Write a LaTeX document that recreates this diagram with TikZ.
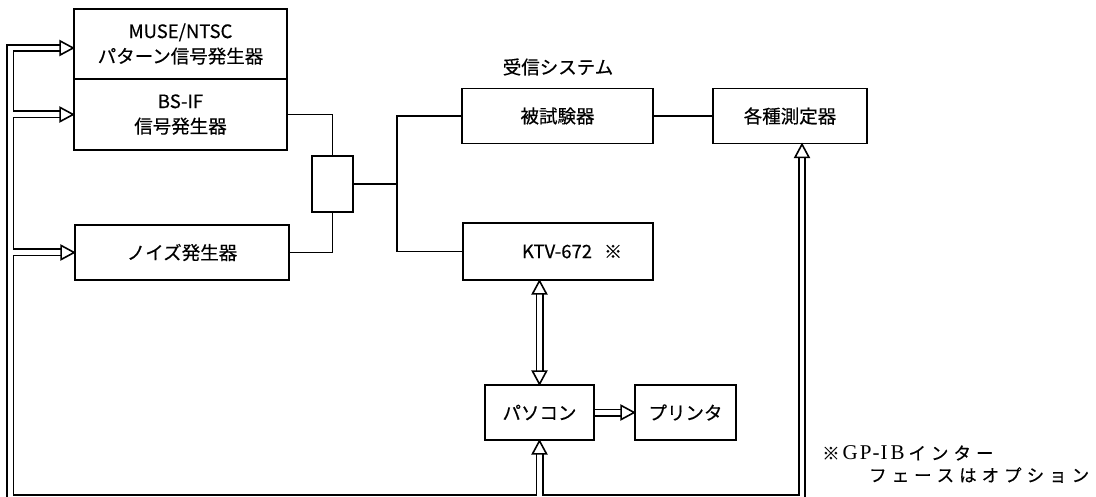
\documentclass[tikz,border=0pt]{standalone}
\usepackage{fontspec}
\setmainfont{Noto Sans CJK JP}[FakeBold=0.4]
\newfontfamily\serifL{Liberation Serif}
\usetikzlibrary{calc}
\newcommand\gsp{\hspace{5pt}}
\begin{document}
\begin{tikzpicture}[x=1pt,y=-1pt,
  box/.style={draw,line width=1.7pt,inner sep=0pt,align=center,font=\fontsize{18.5}{25}\selectfont},
  lbl/.style={inner sep=0pt,font=\fontsize{18.5}{25}\selectfont},
  notefont/.style={inner sep=0pt,anchor=west,font=\fontsize{17.5}{22}\selectfont},
  wire/.style={line width=1.8pt},
  busout/.style={line width=8pt,line join=miter,line cap=butt},
  busin/.style={white,line width=4.6pt,line join=miter,line cap=butt},
  otri/.pic={\draw[fill=white,line width=1.6pt,line join=miter] (0,0) -- (-13,-7) -- (-13,7) -- cycle;}]
\useasboundingbox (0,0) rectangle (1096,497);

% boxes
\node[box,minimum width=213pt,minimum height=70pt] (muse) at (180.5,44) {MUSE/NTSC\\パターン信号発生器};
\node[box,minimum width=213pt,minimum height=71pt] (bsif) at (180.5,114.5) {BS-IF\\信号発生器};
\node[box,minimum width=214pt,minimum height=55pt] (noise) at (182,252.5) {ノイズ発生器};
\node[box,minimum width=41pt,minimum height=56pt] (comb) at (332.5,184) {};
\node[box,minimum width=191pt,minimum height=55pt] (dut) at (557.5,116) {被試験器};
\node[box,minimum width=190pt,minimum height=57pt] (ktv) at (558,251.5) {\hspace*{28pt}KTV-672\hspace{12pt}{\fontsize{18}{18}\selectfont ※}};
\node[box,minimum width=154pt,minimum height=55pt] (meas) at (790,116) {各種測定器};
\node[box,minimum width=109pt,minimum height=55pt] (pc) at (539.5,412.5) {パソコン};
\node[box,minimum width=101pt,minimum height=55pt] (prn) at (685.5,412.5) {プリンタ};
\node[lbl] (sys) at (558,67) {受信システム};

% note
\node[notefont] (note1) at (822,453) {※\hspace{3pt}{\serifL\fontsize{21}{22}\selectfont G\hspace{2pt}P\hspace{1pt}-\hspace{1pt}I\hspace{3pt}B}\hspace{4pt}イ\gsp ン\gsp タ\gsp ー};
\node[notefont] (note2) at (869,475) {フ\gsp ェ\gsp ー\gsp ス\gsp は\gsp オ\gsp プ\gsp シ\gsp ョ\gsp ン};

% signal wires
\coordinate (split) at (397,184);
\draw[wire] (bsif.east) -| (comb.north);
\draw[wire] (noise.east) -| (comb.south);
\draw[wire] (comb.east) -- (split);
\draw[wire] (split) |- (dut.west);
\draw[wire] (split) |- (ktv.west);
\draw[wire] (dut.east) -- (meas.west);

% bus coordinates
\coordinate (mx) at ([xshift=12pt]meas.south);
\coordinate (mtip) at ([yshift=-4pt]muse.west);
\coordinate (bl) at (10.3,498);
\coordinate (br) at (mx |- bl);
\coordinate (tl) at (bl |- mtip);
\coordinate (pcb) at (pc.south |- bl);
\coordinate (kb) at (pc.north |- ktv.south);

\newcommand\buspaths{
  ([yshift=-13pt]mx) -- (br) -- (bl) -- (tl) -- ([xshift=-13pt]mtip)
  (bl |- bsif.west) -- ([xshift=-13pt]bsif.west)
  (bl |- noise.west) -- ([xshift=-13pt]noise.west)
  (pcb) -- ([yshift=-13pt]pc.south)
  ([yshift=-13pt]kb) -- ([yshift=13pt]pc.north)
  (pc.east) -- ([xshift=-13pt]prn.west)
}
\draw[busout] \buspaths;
\draw[busin] \buspaths;

% arrow heads
\pic at (mtip) {otri};
\pic at (bsif.west) {otri};
\pic at (noise.west) {otri};
\pic[rotate=90] at (mx) {otri};
\pic[rotate=90] at (pc.south) {otri};
\pic[rotate=90] at (kb) {otri};
\pic[rotate=-90] at (pc.north) {otri};
\pic at (prn.west) {otri};
\end{tikzpicture}
\end{document}
